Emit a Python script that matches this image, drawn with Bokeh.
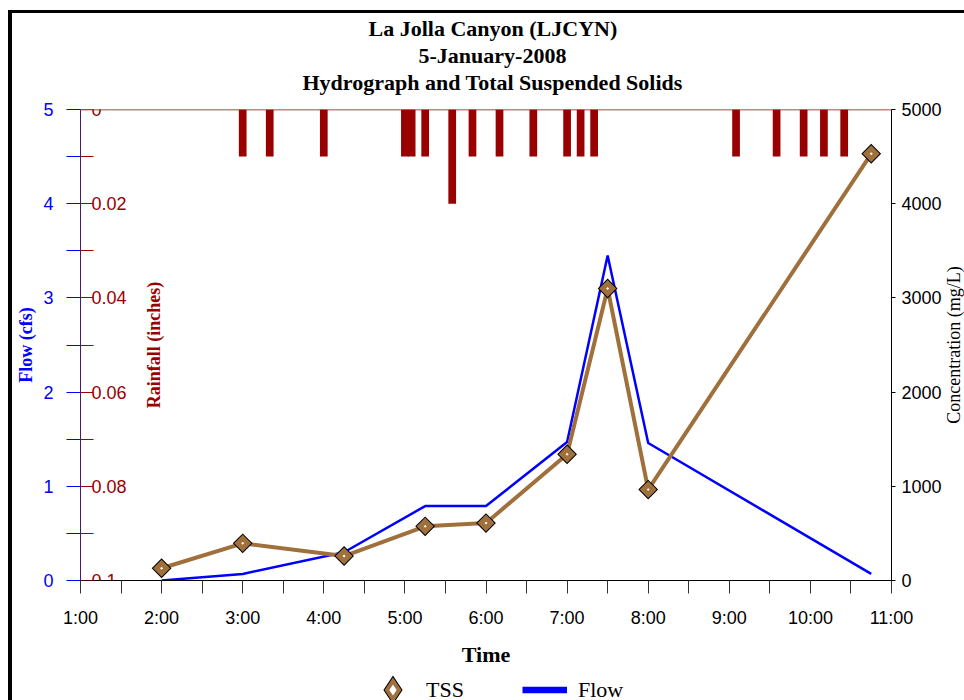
import math
from bokeh.plotting import figure
from bokeh.layouts import column, row
from bokeh.models import (Range1d, LinearAxis, FixedTicker, Span, Legend,
                          LegendItem, Label, Title, ColumnDataSource)
from bokeh.embed import file_html
from bokeh.resources import INLINE

# ---------------- data ----------------
title_lines = ["La Jolla Canyon (LJCYN)", "5-January-2008",
               "Hydrograph and Total Suspended Solids"]

x_tick_labels = ["1:00", "2:00", "3:00", "4:00", "5:00", "6:00",
                 "7:00", "8:00", "9:00", "10:00", "11:00"]

flow_times = ["2:00", "3:00", "4:15", "5:15", "6:00", "7:00", "7:30", "8:00", "10:45"]
flow_cfs = [0.0, 0.07, 0.30, 0.79, 0.79, 1.47, 3.45, 1.46, 0.07]

tss_times = ["2:00", "3:00", "4:15", "5:15", "6:00", "7:00", "7:30", "8:00", "10:45"]
tss_mgL = [130, 395, 260, 575, 610, 1340, 3100, 965, 4530]

rain_times = ["3:00", "3:20", "4:00", "5:00", "5:05", "5:15", "5:35", "5:50", "6:10",
              "6:35", "7:00", "7:10", "7:20", "9:05", "9:35", "9:55", "10:10", "10:25"]
rain_in = [0.01, 0.01, 0.01, 0.01, 0.01, 0.01, 0.02, 0.01, 0.01,
           0.01, 0.01, 0.01, 0.01, 0.01, 0.01, 0.01, 0.01, 0.01]

flow_ticks = [0, 1, 2, 3, 4, 5]
flow_minor = [0.5, 1.5, 2.5, 3.5, 4.5]
rain_ticks = [0, 0.02, 0.04, 0.06, 0.08, 0.1]
rain_tick_labels = ["0", "0.02", "0.04", "0.06", "0.08", "0.1"]
rain_minor = [0.01, 0.03, 0.05, 0.07, 0.09]
conc_ticks = [0, 1000, 2000, 3000, 4000, 5000]
conc_minor = [500, 1500, 2500, 3500, 4500]


def hrs(t):
    h, m = t.split(":")
    return int(h) + int(m) / 60.0


x_ticks = [hrs(t) for t in x_tick_labels]
x_minor = [h + 0.5 for h in x_ticks[:-1]]

BLUE = "#0000ff"
RED = "#990000"
BROWN = "#a0703c"
PURPLE = "#4c1a66"
SERIF = "Liberation Serif"
SANS = "Liberation Sans"

MAIN_H = 659
p = figure(width=932, height=MAIN_H, x_range=Range1d(1, 11), y_range=Range1d(0, 5),
           output_backend="svg", toolbar_location=None,
           min_border_left=68, min_border_right=53, min_border_top=96,
           min_border_bottom=92)
p.grid.visible = False
p.outline_line_color = None
p.background_fill_color = "white"
p.border_fill_color = "white"
p.extra_y_ranges = {"rain": Range1d(0.1, 0), "conc": Range1d(0, 5000)}

# x axis (bottom)
xa = p.xaxis[0]
xa.ticker = FixedTicker(ticks=x_ticks, minor_ticks=x_minor)
xa.major_label_overrides = {h: l for h, l in zip(x_ticks, x_tick_labels)}
xa.major_tick_out = 13
xa.minor_tick_out = 13
xa.major_tick_in = 0
xa.minor_tick_in = 0
xa.major_tick_line_color = "#333333"
xa.minor_tick_line_color = "#333333"
xa.axis_line_color = "black"
xa.major_label_text_font = SANS
xa.major_label_text_font_size = "18px"
xa.major_label_text_color = "black"
xa.major_label_standoff = 14
xa.axis_label = "Time"
xa.axis_label_text_font = SERIF
xa.axis_label_text_font_size = "22px"
xa.axis_label_text_font_style = "bold"
xa.axis_label_text_color = "black"
xa.axis_label_standoff = 11

# flow (left) axis
ya = p.yaxis[0]
ya.ticker = FixedTicker(ticks=flow_ticks, minor_ticks=flow_minor)
ya.major_tick_out = 14
ya.minor_tick_out = 14
ya.major_tick_in = 0
ya.minor_tick_in = 0
ya.major_tick_line_color = BLUE
ya.minor_tick_line_color = BLUE
ya.axis_line_color = PURPLE
ya.major_label_text_color = BLUE
ya.major_label_text_font = SANS
ya.major_label_text_font_size = "18px"
ya.major_label_standoff = 13
ya.axis_label = "Flow (cfs)"
ya.axis_label_text_font = SERIF
ya.axis_label_text_font_size = "18px"
ya.axis_label_text_font_style = "bold"
ya.axis_label_text_color = BLUE
ya.axis_label_standoff = 4

# blank top axis (one white tick at the frame corner) used as a gap under the title
gap = LinearAxis(ticker=FixedTicker(ticks=[1]), major_tick_out=15, major_tick_in=0,
                 minor_tick_out=0, minor_tick_in=0, major_label_standoff=0,
                 major_label_overrides={1: ""}, major_label_text_font_size="1px",
                 axis_line_color=None, major_tick_line_color="white",
                 minor_tick_line_color=None)
p.add_layout(gap, "above")

# title: three centred lines (added nearest-first)
title_offsets = [288, 338, 222]
p.title = None
for txt, off in reversed(list(zip(title_lines, title_offsets))):
    p.add_layout(Title(text=txt, align="left", offset=off, standoff=0,
                       text_font=SERIF, text_font_size="22px",
                       text_font_style="bold", text_color="black"), "above")

# concentration (right) axis: labelled ticks
ca = LinearAxis(y_range_name="conc")
ca.ticker = FixedTicker(ticks=conc_ticks)
ca.major_tick_out = 4
ca.minor_tick_out = 0
ca.major_tick_in = 0
ca.minor_tick_in = 0
ca.major_tick_line_color = "black"
ca.minor_tick_line_color = None
ca.axis_line_color = "black"
ca.major_label_text_font = SANS
ca.major_label_text_font_size = "18px"
ca.major_label_text_color = "black"
ca.major_label_standoff = 6
p.add_layout(ca, "right")

# half-step ticks of the concentration axis
cm = LinearAxis(y_range_name="conc", fixed_location=11)
cm.ticker = FixedTicker(ticks=conc_minor)
cm.major_tick_out = 13
cm.major_tick_in = 0
cm.minor_tick_out = 0
cm.minor_tick_in = 0
cm.major_tick_line_color = "black"
cm.minor_tick_line_color = None
cm.axis_line_color = None
cm.major_label_text_alpha = 0
cm.major_label_text_font_size = "1px"
p.add_layout(cm, "right")

# rainfall axis drawn on the left edge, labels inside
ra = LinearAxis(y_range_name="rain", fixed_location=1)
ra.ticker = FixedTicker(ticks=rain_ticks, minor_ticks=rain_minor)
ra.major_label_overrides = {v: l for v, l in zip(rain_ticks, rain_tick_labels)}
ra.major_tick_out = 13
ra.minor_tick_out = 13
ra.major_tick_in = 0
ra.minor_tick_in = 0
ra.major_tick_line_color = RED
ra.minor_tick_line_color = RED
ra.axis_line_color = PURPLE
ra.major_label_text_color = RED
ra.major_label_text_font = SANS
ra.major_label_text_font_size = "18px"
ra.major_label_standoff = -2
p.add_layout(ra, "right")

p.add_layout(Span(location=0, dimension="width", y_range_name="rain",
                  line_color=RED, line_width=1.5))

p.add_layout(Label(x=1.905, y=2.5, text="Rainfall (inches)", angle=math.pi / 2,
                   text_align="center", text_baseline="middle", text_font=SERIF,
                   text_font_size="18px", text_font_style="bold", text_color=RED))

# rain bars
rain_src = ColumnDataSource(dict(x=[hrs(t) for t in rain_times], v=rain_in))
p.vbar(x="x", width=0.095, top=0, bottom="v", source=rain_src,
       y_range_name="rain", fill_color=RED, line_color=None)

# flow
flow_src = ColumnDataSource(dict(x=[hrs(t) for t in flow_times], y=flow_cfs))
p.line(x="x", y="y", source=flow_src, line_color=BLUE, line_width=2.5)

# TSS
tss_src = ColumnDataSource(dict(x=[hrs(t) for t in tss_times], y=tss_mgL))
p.line(x="x", y="y", source=tss_src, y_range_name="conc", line_color=BROWN, line_width=4)
p.scatter(x="x", y="y", source=tss_src, y_range_name="conc", marker="square",
          angle=math.pi / 4, size=7, fill_color="white", line_color="black",
          line_width=7, line_join="miter")
p.scatter(x="x", y="y", source=tss_src, y_range_name="conc", marker="square",
          angle=math.pi / 4, size=7, fill_color="white", line_color=BROWN,
          line_width=5, line_join="miter")

# ---------------- right strip: concentration axis title ----------------
rt = figure(width=20, height=MAIN_H, x_range=Range1d(0, 1), y_range=Range1d(0, 5000),
            x_axis_type=None, y_axis_type=None, output_backend="svg",
            toolbar_location=None, min_border_left=0, min_border_right=0,
            min_border_top=96, min_border_bottom=92)
rt.outline_line_color = None
rt.grid.visible = False
rt.background_fill_color = "white"
rt.border_fill_color = "white"
rt.add_layout(Label(x=0.45, y=2500, text="Concentration (mg/L)", angle=math.pi / 2,
                    text_align="center", text_baseline="middle", text_font=SERIF,
                    text_font_size="18px", text_color="black"))

# ---------------- legend strip ----------------
lg = figure(width=952, height=28, x_range=Range1d(0, 1), y_range=Range1d(0, 1),
            x_axis_type=None, y_axis_type=None, output_backend="svg",
            toolbar_location=None, min_border=0, min_border_left=0,
            min_border_right=0, min_border_top=0, min_border_bottom=0)
lg.outline_line_color = None
lg.grid.visible = False
lg.background_fill_color = "white"
lg.border_fill_color = "white"

# the same series, drawn in the strip's own (empty) range: only their legend swatches show
leg_outer = lg.scatter(x="x", y="y", source=tss_src, marker="diamond", fill_color="white",
                       line_color="black", line_width=6, line_join="miter")
leg_inner = lg.scatter(x="x", y="y", source=tss_src, marker="diamond", fill_color="white",
                       line_color=BROWN, line_width=4, line_join="miter")
leg_flow = lg.line(x="x", y="y", source=flow_src, line_color=BLUE, line_width=6.5)

legend = Legend(items=[LegendItem(label="TSS", renderers=[leg_outer, leg_inner], index=0),
                       LegendItem(label="Flow", renderers=[leg_flow])],
                orientation="horizontal", location=(358, -12),
                glyph_width=45, glyph_height=45, label_standoff=11, spacing=58,
                padding=0, margin=0, border_line_color=None,
                background_fill_alpha=0, label_text_font=SERIF,
                label_text_font_size="22px", label_text_color="black")
lg.add_layout(legend)

page = column(row(p, rt, spacing=0), lg, spacing=0,
              styles={"border-left": "4px solid black", "border-top": "3px solid black",
                      "margin-left": "8px", "margin-top": "10px"})

open("out.html", "w").write(file_html(page, INLINE))
